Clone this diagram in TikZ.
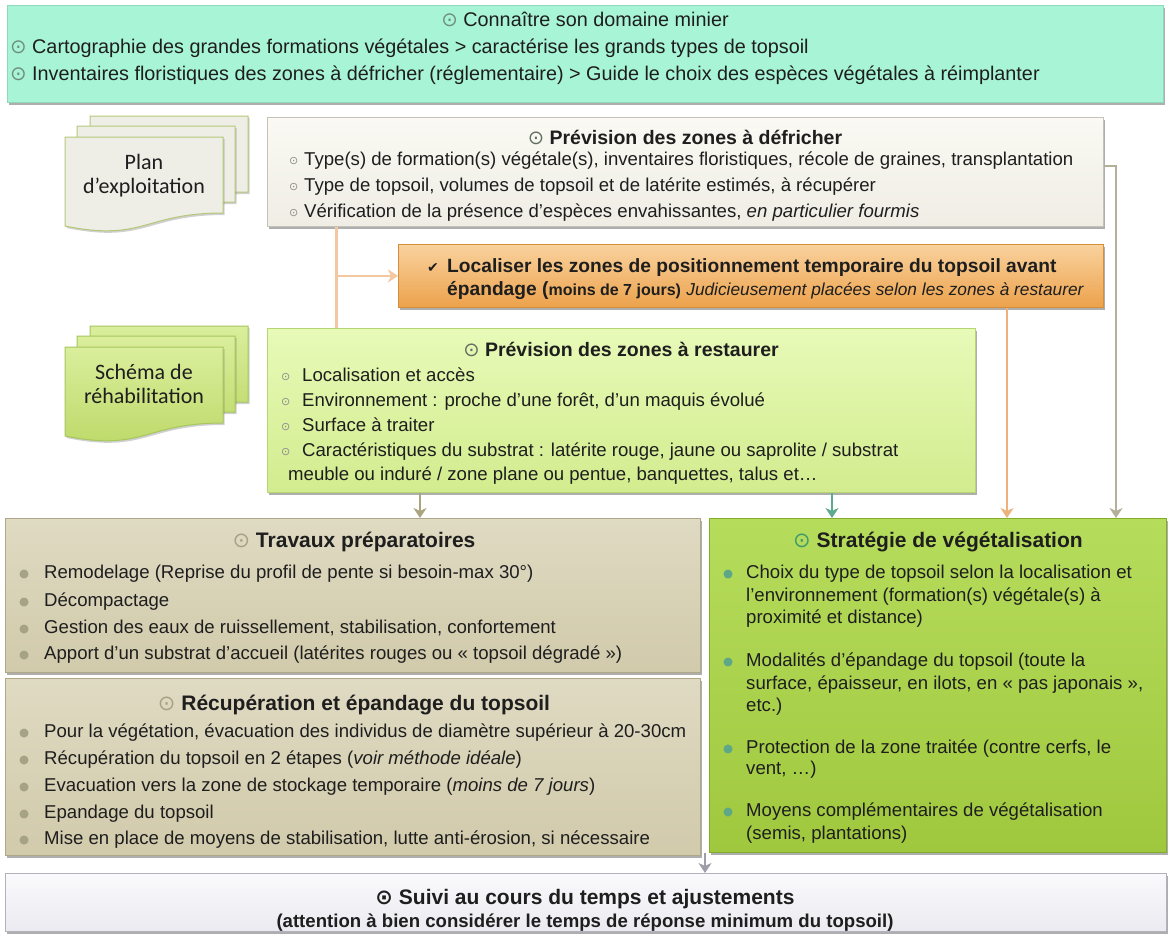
\documentclass[tikz,border=0pt]{standalone}
\usepackage{fontspec}
\setmainfont{Liberation Sans}
\newfontfamily\symf{DejaVu Sans}
\newfontfamily\calib{Carlito}
\usetikzlibrary{shadows,arrows.meta,calc}
\definecolor{mint}{HTML}{A8F4D6}
\definecolor{mintd}{HTML}{8FD8BC}
\definecolor{creamt}{HTML}{FAF9F3}
\definecolor{creamb}{HTML}{EFEDE4}
\definecolor{creamd}{HTML}{C4C3BA}
\definecolor{orat}{HTML}{F9D29E}
\definecolor{orab}{HTML}{ECA24C}
\definecolor{orad}{HTML}{D58E3A}
\definecolor{lgt}{HTML}{E8FAB8}
\definecolor{lgb}{HTML}{D2EC8E}
\definecolor{lgd}{HTML}{B6D672}
\definecolor{tant}{HTML}{DFDAC2}
\definecolor{tanb}{HTML}{D1CAAB}
\definecolor{tand}{HTML}{AFA787}
\definecolor{grt}{HTML}{B6DC5C}
\definecolor{grb}{HTML}{A0C83E}
\definecolor{grd}{HTML}{84AC2C}
\definecolor{suit}{HTML}{FAFAFD}
\definecolor{suib}{HTML}{EAEAF0}
\definecolor{suid}{HTML}{B2B2BE}
\definecolor{docf}{HTML}{EEEEE6}
\definecolor{docd}{HTML}{B3C878}
\definecolor{sdt}{HTML}{DAEE9C}
\definecolor{sdb}{HTML}{BCD866}
\definecolor{sdd}{HTML}{A6C65E}
\definecolor{lor}{HTML}{F3C8A0}
\definecolor{lor2}{HTML}{EDB27C}
\definecolor{khaki}{HTML}{ABA47E}
\definecolor{teal}{HTML}{5DAA8C}
\definecolor{grk}{HTML}{B3AF98}
\definecolor{gra}{HTML}{9E9EA8}
\definecolor{txt}{HTML}{1E1E1E}
\definecolor{ocg}{HTML}{6F8F7C}
\definecolor{ocd}{HTML}{5E6E60}
\definecolor{bulgray}{HTML}{8E8E8E}
\definecolor{khb}{HTML}{A6A286}
\definecolor{tlb}{HTML}{5EA888}
\definecolor{ocs}{HTML}{3E9A6E}
\newcommand{\oc}[1]{{\symf\color{#1}⊙}}
\newcommand{\sbul}{\raisebox{0.5pt}{\symf\fontsize{11}{11}\selectfont\color{bulgray}⊙}}
\newcommand{\fb}[1]{\raisebox{1pt}{\symf\fontsize{11.5}{11.5}\selectfont\color{#1}●}}
\tikzset{
 panel/.style={anchor=north west, inner sep=0pt, line width=0.8pt,
   drop shadow={shadow xshift=2pt, shadow yshift=-2.5pt, opacity=0.45, fill=black!70}},
 docshadow/.style={drop shadow={shadow xshift=1.5pt, shadow yshift=-2pt, opacity=0.3, fill=black!60}},
 lbl/.style={anchor=base west, inner sep=0pt, text=txt, font=\fontsize{18.6}{22}\selectfont},
 lbt/.style={anchor=base west, inner sep=0pt, text=txt, font=\fontsize{19.8}{23}\selectfont},
 ttl/.style={anchor=base, inner sep=0pt, text=txt, font=\bfseries\fontsize{19.5}{23}\selectfont},
 ttlb/.style={anchor=base, inner sep=0pt, text=txt, font=\bfseries\fontsize{21}{25}\selectfont},
 docl/.style={anchor=base, inner sep=0pt, text=txt, font=\calib\fontsize{22}{26}\selectfont},
 arr/.style={line width=2.8pt, -{Stealth[length=10pt,width=13pt,inset=3pt]}},
}
\newcommand{\docpage}[3]{%
 \begin{scope}[shift={(#1,#2)}]
 \path[#3] (0,0) -- (158,0) -- (158,76) .. controls (79,76) and (79,105) .. (0,89) -- cycle;
 \end{scope}}
\begin{document}
\begin{tikzpicture}[x=1pt,y=-1pt]
\useasboundingbox (0,0) rectangle (1171,934);
\fill[white] (0,0) rectangle (1171,934);

% ---------- panels ----------
\node[panel, fill=mint, draw=mintd, minimum width=1156pt, minimum height=97pt] (top) at (7,5) {};
\node[panel, top color=creamt, bottom color=creamb, draw=creamd, minimum width=836pt, minimum height=109pt] (defr) at (267,117) {};
\node[panel, top color=orat, bottom color=orab, draw=orad, minimum width=705pt, minimum height=63pt] (orng) at (398,244) {};
\node[panel, top color=lgt, bottom color=lgb, draw=lgd, minimum width=708pt, minimum height=164pt] (rest) at (267,328) {};
\node[panel, top color=tant, bottom color=tanb, draw=tand, minimum width=695pt, minimum height=154pt] (trav) at (5,518) {};
\node[panel, top color=tant, bottom color=tanb, draw=tand, minimum width=695pt, minimum height=177pt] (recup) at (5,678) {};
\node[panel, top color=grt, bottom color=grb, draw=grd, minimum width=457pt, minimum height=334pt] (strat) at (709,518) {};
\node[panel, top color=suit, bottom color=suib, draw=suid, minimum width=1161pt, minimum height=58pt] (suivi) at (5,873) {};

% ---------- document stacks ----------
\docpage{90}{116}{docshadow, fill=docf, draw=docd, line width=1pt}
\docpage{77}{126}{docshadow, fill=docf, draw=docd, line width=1pt}
\docpage{65}{137}{docshadow, fill=docf, draw=docd, line width=1pt}
\node[docl] (plan1) at (144,169) {Plan};
\node[docl] (plan2) at (144,193) {d’exploitation};

\docpage{90}{326}{docshadow, top color=sdt, bottom color=sdb, draw=sdd, line width=1pt}
\docpage{77}{336}{docshadow, top color=sdt, bottom color=sdb, draw=sdd, line width=1pt}
\docpage{65}{347}{docshadow, top color=sdt, bottom color=sdb, draw=sdd, line width=1pt}
\node[docl] (sch1) at (144,379) {Schéma de};
\node[docl] (sch2) at (144,403) {réhabilitation};

% ---------- connectors ----------
\coordinate (spine) at (336,277);
\coordinate (xA) at (420,0);
\coordinate (xB) at (832,0);
\coordinate (xC) at (1007,0);
\coordinate (xD) at (1116,0);
\coordinate (xE) at (705,0);
\draw[lor, line width=3pt] (spine |- defr.south) -- (spine |- rest.north);
\draw[arr, lor] (spine |- orng.west) -- (orng.west);
\draw[arr, khaki] (xA |- rest.south) -- (xA |- trav.north);
\draw[arr, teal] (xB |- rest.south) -- (xB |- strat.north);
\draw[arr, lor2] (xC |- orng.south) -- (xC |- strat.north);
\draw[arr, grk] ([yshift=6pt]defr.east) -| (xD |- strat.north);
\draw[arr, gra] (xE |- strat.south) -- (xE |- suivi.north);

% ---------- top box ----------
\node[anchor=base, inner sep=0pt, text=txt, font=\fontsize{19.8}{23}\selectfont] (t0) at (585,27) {\oc{ocg}~Connaître son domaine minier};
\node[lbt] (t1) at (10,54) {\makebox[22pt][l]{\oc{ocg}}Cartographie des grandes formations végétales > caractérise les grands types de topsoil};
\node[lbt] (t2) at (10,81) {\makebox[22pt][l]{\oc{ocg}}Inventaires floristiques des zones à défricher (réglementaire) > Guide le choix des espèces végétales à réimplanter};

% ---------- défricher ----------
\node[ttl] (d0) at (685,144) {{\mdseries\oc{ocd}}~Prévision des zones à défricher};
\node[lbl] (d1) at (289,165) {\makebox[15pt][l]{\sbul}Type(s) de formation(s) végétale(s), inventaires floristiques, récole de graines, transplantation};
\node[lbl] (d2) at (289,191) {\makebox[15pt][l]{\sbul}Type de topsoil, volumes de topsoil et de latérite estimés, à récupérer};
\node[lbl] (d3) at (289,217) {\makebox[15pt][l]{\sbul}Vérification de la présence d'espèces envahissantes, \textit{en particulier fourmis}};

% ---------- orange ----------
\node[lbl, font=\bfseries\fontsize{19.2}{22}\selectfont] (o1) at (427,272) {\makebox[20pt][l]{\mdseries\symf\fontsize{14}{14}\selectfont ✔}Localiser les zones de positionnement temporaire du topsoil avant};
\node[lbl, font=\bfseries\fontsize{19.2}{22}\selectfont] (o2) at (447,295) {épandage ({\fontsize{16}{18}\selectfont moins de 7 jours)} {\mdseries\itshape\fontsize{17.3}{20}\selectfont Judicieusement placées selon les zones à restaurer}};

% ---------- restaurer ----------
\node[ttl] (r0) at (621,356) {{\mdseries\oc{ocd}}~Prévision des zones à restaurer};
\node[lbl] (r1) at (281,381) {\makebox[21pt][l]{\sbul}Localisation et accès};
\node[lbl] (r2) at (281,406) {\makebox[21pt][l]{\sbul}Environnement : proche d'une forêt, d'un maquis évolué};
\node[lbl] (r3) at (281,431) {\makebox[21pt][l]{\sbul}Surface à traiter};
\node[lbl] (r4) at (281,456) {\makebox[21pt][l]{\sbul}Caractéristiques du substrat : latérite rouge, jaune ou saprolite / substrat};
\node[lbl] (r5) at (288,480) {meuble ou induré / zone plane ou pentue, banquettes, talus et…};

% ---------- travaux ----------
\node[ttlb] (w0) at (354,547) {{\mdseries\oc{khb}}~Travaux préparatoires};
\node[lbl] (w1) at (19,578) {\makebox[25pt][l]{\fb{khb}}Remodelage (Reprise du profil de pente si besoin-max 30°)};
\node[lbl] (w2) at (19,606) {\makebox[25pt][l]{\fb{khb}}Décompactage};
\node[lbl] (w3) at (19,633) {\makebox[25pt][l]{\fb{khb}}Gestion des eaux de ruissellement, stabilisation, confortement};
\node[lbl] (w4) at (19,659) {\makebox[25pt][l]{\fb{khb}}Apport d'un substrat d'accueil (latérites rouges ou «~topsoil dégradé~»)};

% ---------- récupération ----------
\node[ttlb] (c0) at (354,710) {{\mdseries\oc{khb}}~Récupération et épandage du topsoil};
\node[lbl] (c1) at (19,737) {\makebox[25pt][l]{\fb{khb}}Pour la végétation, évacuation des individus de diamètre supérieur à 20-30cm};
\node[lbl] (c2) at (19,764) {\makebox[25pt][l]{\fb{khb}}Récupération du topsoil en 2 étapes (\textit{voir méthode idéale})};
\node[lbl] (c3) at (19,791) {\makebox[25pt][l]{\fb{khb}}Evacuation vers la zone de stockage temporaire (\textit{moins de 7 jours})};
\node[lbl] (c4) at (19,818) {\makebox[25pt][l]{\fb{khb}}Epandage du topsoil};
\node[lbl] (c5) at (19,844) {\makebox[25pt][l]{\fb{khb}}Mise en place de moyens de stabilisation, lutte anti-érosion, si nécessaire};

% ---------- stratégie ----------
\node[ttlb] (s0) at (938,547) {{\mdseries\oc{ocs}}~Stratégie de végétalisation};
\node[lbl] (s1) at (723,578) {\makebox[23pt][l]{\fb{tlb}}Choix du type de topsoil selon la localisation et};
\node[lbl] (s1b) at (746,601) {l'environnement (formation(s) végétale(s) à};
\node[lbl] (s1c) at (746,623) {proximité et distance)};
\node[lbl] (s2) at (723,666) {\makebox[23pt][l]{\fb{tlb}}Modalités d'épandage du topsoil (toute la};
\node[lbl] (s2b) at (746,689) {surface, épaisseur, en ilots, en «~pas japonais~»,};
\node[lbl] (s2c) at (746,711) {etc.)};
\node[lbl] (s3) at (723,753) {\makebox[23pt][l]{\fb{tlb}}Protection de la zone traitée (contre cerfs, le};
\node[lbl] (s3b) at (746,774) {vent, …)};
\node[lbl] (s4) at (723,816) {\makebox[23pt][l]{\fb{tlb}}Moyens complémentaires de végétalisation};
\node[lbl] (s4b) at (746,839) {(semis, plantations)};

% ---------- suivi ----------
\node[ttlb] (u0) at (585,904) {\oc{txt}~Suivi au cours du temps et ajustements};
\node[anchor=base, inner sep=0pt, text=txt, font=\bfseries\fontsize{18.6}{21}\selectfont] (u1) at (585,927) {(attention à bien considérer le temps de réponse minimum du topsoil)};
\end{tikzpicture}
\end{document}
